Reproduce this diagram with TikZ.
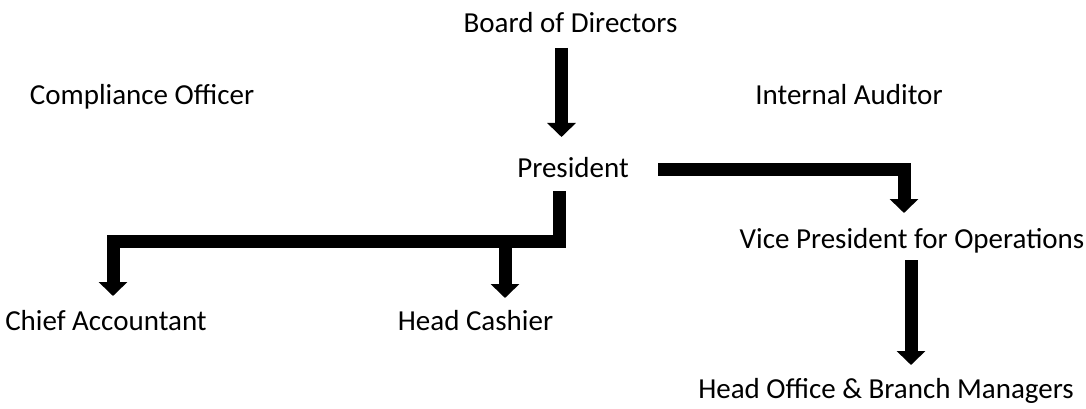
\documentclass[tikz,border=0pt]{standalone}
\usepackage{fontspec}
\setmainfont{Carlito}
\usepackage{tikz}
\usetikzlibrary{arrows.meta}

\begin{document}
\begin{tikzpicture}[x=1pt,y=-1pt,>={Triangle[width=28pt,length=14pt]},
  title node/.style={inner sep=0pt,anchor=base,font=\fontsize{29}{34}\selectfont}]
  \tikzset{BarStyle/.style = {draw=black,line width=13pt,line join=miter}}
  \useasboundingbox (0,0) rectangle (1086,409);
  \node[title node] (board) at (570.5,33) {Board of Directors};
  \node[title node] (comp) at (142,105) {Compliance Officer};
  \node[title node] (aud) at (849,105) {Internal Auditor};
  \node[title node] (pres) at (573,177) {President};
  \node[title node] (chief) at (106,330) {Chief Accountant};
  \node[title node] (cash) at (475.5,330) {Head Cashier};
  \node[title node] (vp) at (912,248) {Vice President for Operations};
  \node[title node] (hob) at (886,398) {Head Office \& Branch Managers};

    \draw[BarStyle,->] ([shift={(-9,15)}]board.base) -- ([shift={(-11.5,-40)}]pres.base);
    \draw[BarStyle,->] ([shift={(-14,14)}]pres.base) |- ([shift={(7,-88.5)}]chief.base)
      -- ([shift={(7,-34)}]chief.base);
    \draw[BarStyle,->] ([shift={(29.5,-88.5)}]cash.base) -- ([shift={(29.5,-32)}]cash.base);
    \draw[BarStyle,->] ([shift={(85,-7.5)}]pres.base) -| ([shift={(-8,-35)}]vp.base);
    \draw[BarStyle,->] ([shift={(-1,12)}]vp.base) -- ([shift={(25,-33)}]hob.base);
\end{tikzpicture}
\end{document}
